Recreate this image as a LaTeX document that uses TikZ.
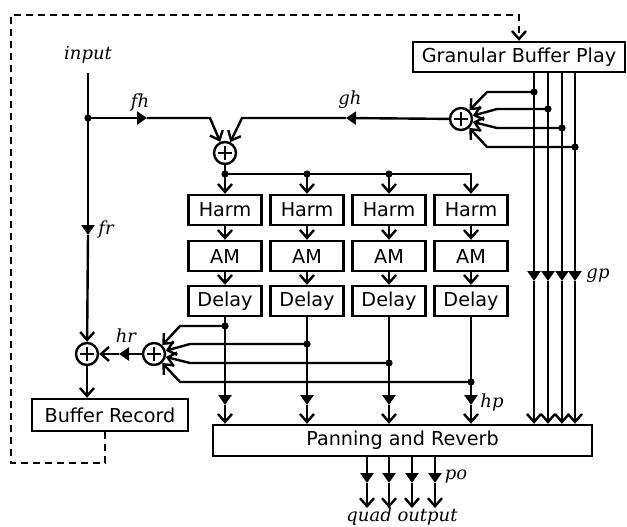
\documentclass[tikz,border=0pt]{standalone}
\usepackage{fontspec}
\setmainfont{DejaVu Sans}
\newfontfamily\labfont{DejaVu Serif}
\usetikzlibrary{arrows.meta, positioning, calc}

\tikzset{
  wire/.style={line width=1.2pt},
  arr/.style={wire, -{Straight Barb[length=4pt, width=7pt]}},
  gain/.style={wire, -{Triangle[length=5pt, width=6.5pt]}},
  blk/.style={draw, wire, rectangle, inner sep=0pt, minimum width=36.5pt,
    minimum height=15pt, font=\fontsize{9.6}{11}\selectfont},
  adder/.style={draw, wire, circle, inner sep=0pt, minimum size=11pt,
    path picture={
      \draw[line width=1.2pt] ([xshift=-3.4pt]path picture bounding box.center)
        -- ([xshift=3.4pt]path picture bounding box.center);
      \draw[line width=1.2pt] ([yshift=-3.4pt]path picture bounding box.center)
        -- ([yshift=3.4pt]path picture bounding box.center);
    }},
  junc/.style={circle, fill, inner sep=0pt, minimum size=3.6pt},
  lab/.style={font=\labfont\itshape\fontsize{9}{10}\selectfont},
  fb/.style={dash pattern=on 3.5pt off 2.5pt},
}

\begin{document}
\begin{tikzpicture}[x=0.5pt, y=-0.5pt]
\useasboundingbox (0,0) rectangle (627,526);

% --- Blocks ---
\node[blk, minimum width=106pt] (gbp) at (519,57) {Granular Buffer Play};
\node[blk, minimum width=78pt, minimum height=16pt] (rec) at (110,415) {Buffer Record};
\node[blk, minimum width=189.5pt, minimum height=15.5pt] (pan) at (402.5,440.5) {Panning and Reverb};

\foreach \i/\x in {1/225, 2/307, 3/389, 4/471} {
  \node[blk] (harm\i) at (\x,210) {Harm};
  \node[blk] (am\i) at (\x,256) {AM};
  \node[blk] (dly\i) at (\x,301) {Delay};
  \draw[arr] (harm\i) -- (am\i);
  \draw[arr] (am\i) -- (dly\i);
}

% --- Adders ---
\node[adder] (sumA) at (225,153) {};
\node[adder] (sumG) at (461,119) {};
\node[adder] (sumH) at (154,354) {};
\node[adder] (sumR) at (87,354) {};

% --- Input, fh and fr ---
\node[lab] (input) at (88,55) {input};
\coordinate (inTop) at (88,73);
\node[junc] (fsplit) at (88,118) {};
\coordinate (fhMid) at (147,118);
\coordinate (fhBend) at (210,118);
\coordinate (frMid) at (88,235);
\draw[wire] (inTop) -- (fsplit.center);
\draw[gain] (fsplit.center) -- (fhMid);
\draw[arr] (fhMid) -- (fhBend) -- (sumA);
\node[lab] (fh) at (140,103) {fh};
\draw[gain] (fsplit.center) -- (frMid);
\draw[arr] (frMid) -- (sumR);
\node[lab] (fr) at (106,230) {fr};

% --- gh ---
\coordinate (ghMid) at (346,118);
\coordinate (ghBend) at (242,118);
\draw[gain] (sumG) -- (ghMid);
\draw[arr] (ghMid) -- (ghBend) -- (sumA);
\node[lab] (gh) at (350,100) {gh};

% --- Distribution bus ---
\foreach \i in {1,...,4} \coordinate (bus\i) at (harm\i.north |- 0,174);
\draw[wire] (sumA) -- (bus1);
\draw[arr] (bus1) -- (bus4) -- (harm4);
\foreach \i in {1,2,3} {
  \node[junc] (bdot\i) at (bus\i) {};
  \draw[arr] (bus\i) -- (harm\i);
}

% --- Delay outputs and hr taps ---
\foreach \i/\y/\bx in {1/326/180, 2/344/190, 3/363/190, 4/382/180} {
  \coordinate (tap\i) at (dly\i.south |- 0,\y);
  \coordinate (hbend\i) at (\bx,\y);
  \coordinate (hp\i) at (dly\i.south |- 0,405);
  \draw[gain] (dly\i) -- (hp\i);
  \draw[arr] (hp\i) -- (pan.north -| dly\i);
  \node[junc] (tdot\i) at (tap\i) {};
  \draw[arr] (tap\i) -- (hbend\i) -- (sumH);
}
\node[lab] (hp) at (492,403) {hp};

% --- hr ---
\coordinate (hrMid) at (119,354);
\draw[gain] (sumH) -- (hrMid);
\draw[arr] (hrMid) -- (sumR);
\node[lab] (hr) at (126,336) {hr};
\draw[arr] (sumR) -- (rec.north -| sumR);

% --- Granular play lines ---
\foreach \i/\x/\y/\bx in {1/534/92/487, 2/548/109/497, 3/562/128/497, 4/575/147/487} {
  \coordinate (gmid\i) at (\x,281);
  \coordinate (gtap\i) at (\x,\y);
  \coordinate (gbend\i) at (\bx,\y);
  \draw[gain] (gbp.south -| gtap\i) -- (gmid\i);
  \draw[arr] (gmid\i) -- (pan.north -| gtap\i);
  \node[junc] (gdot\i) at (gtap\i) {};
  \draw[arr] (gtap\i) -- (gbend\i) -- (sumG);
}
\node[lab] (gp) at (598,276) {gp};

% --- Outputs ---
\foreach \i/\x in {1/367, 2/389, 3/412, 4/435} {
  \coordinate (omid\i) at (\x,483);
  \coordinate (oend\i) at (\x,508);
  \draw[gain] (pan.south -| omid\i) -- (omid\i);
  \draw[arr] (omid\i) -- (oend\i);
}
\node[lab] (po) at (456,477) {po};
\node[lab] (quad) at (402,517) {quad output};

% --- Feedback loop ---
\coordinate (recOut) at (rec.south -| 105,0);
\coordinate (loopBL) at (11,463);
\coordinate (loopTL) at (11,15);
\draw[arr, fb] (recOut) |- (loopBL) -- (loopTL) -| (gbp.north);

\end{tikzpicture}
\end{document}
